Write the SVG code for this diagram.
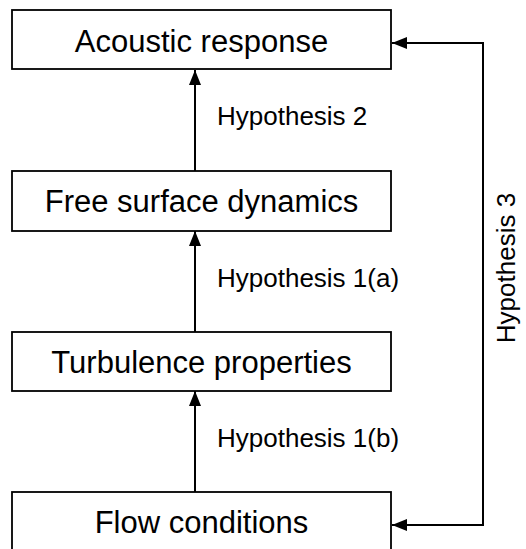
<svg xmlns="http://www.w3.org/2000/svg" width="526" height="549" viewBox="0 0 526 549">
<style>
.box{fill:#fff;stroke:#000;stroke-width:1.8}
.t{font-family:"Liberation Sans",Arial,sans-serif;font-size:31px;fill:#000;text-anchor:middle}
.l{font-family:"Liberation Sans",Arial,sans-serif;font-size:26px;fill:#000}
.c{fill:none;stroke:#000;stroke-width:2}
</style>
<defs>
<marker id="ah" markerWidth="16" markerHeight="12" refX="15" refY="6" orient="auto" markerUnits="userSpaceOnUse">
<path d="M0,0 L15,6 L0,12 Z" fill="#000"/>
</marker>
</defs>
<rect width="526" height="549" fill="#fff"/>
<g id="acoustic">
<rect class="box" x="12" y="10" width="379" height="59"/>
<text class="t" x="201.5" y="52">Acoustic response</text>
</g>
<g id="free-surface">
<rect class="box" x="12" y="171" width="379" height="60"/>
<text class="t" x="201.5" y="212">Free surface dynamics</text>
</g>
<g id="turbulence">
<rect class="box" x="12" y="332" width="379" height="59"/>
<text class="t" x="201.5" y="373">Turbulence properties</text>
</g>
<g id="flow">
<rect class="box" x="12" y="492" width="379" height="60"/>
<text class="t" x="201.5" y="533">Flow conditions</text>
</g>
<g id="connectors">
<line class="c" x1="195" y1="171" x2="195" y2="70" marker-end="url(#ah)"/>
<line class="c" x1="195" y1="332" x2="195" y2="231" marker-end="url(#ah)"/>
<line class="c" x1="195" y1="492" x2="195" y2="391" marker-end="url(#ah)"/>
<polyline class="c" points="483,525 483,43 392,43" marker-end="url(#ah)"/>
<line class="c" x1="484" y1="525" x2="392" y2="525" marker-end="url(#ah)"/>
<text class="l" x="217" y="125">Hypothesis 2</text>
<text class="l" x="217" y="287">Hypothesis 1(a)</text>
<text class="l" x="217" y="447">Hypothesis 1(b)</text>
<text class="l" text-anchor="middle" transform="translate(515,268) rotate(-90)">Hypothesis 3</text>
</g>
</svg>
